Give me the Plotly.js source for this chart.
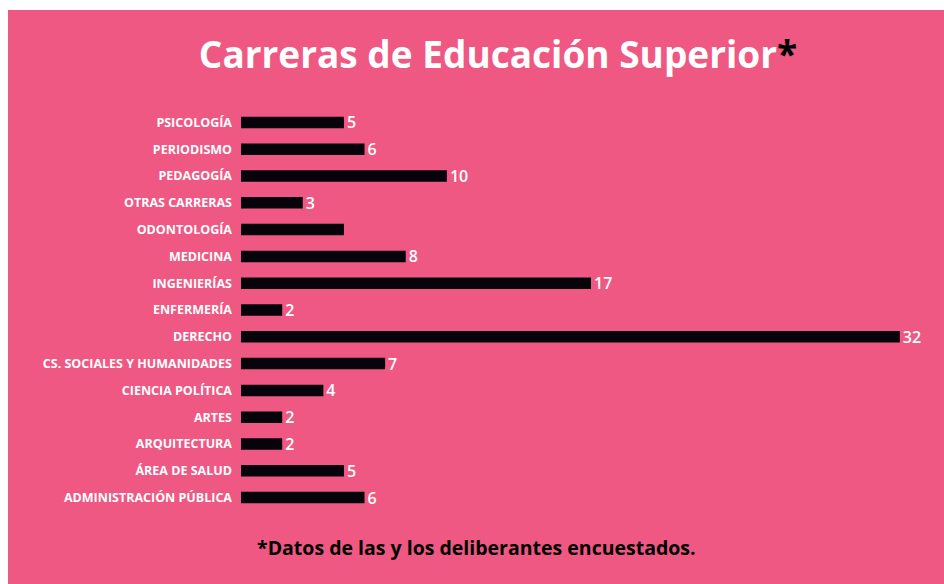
<!DOCTYPE html>
<html>
<head>
<meta charset="utf-8">
<script src="https://cdn.plot.ly/plotly-3.0.1.min.js"></script>
<style>
  html, body { margin: 0; padding: 0; background: #ffffff; }
  #chart { position: absolute; left: 8px; top: 10px; width: 936px; height: 574px; }
</style>
</head>
<body>
<div id="chart"></div>
<script>
const categories = ['PSICOLOGÍA','PERIODISMO','PEDAGOGÍA','OTRAS CARRERAS','ODONTOLOGÍA','MEDICINA','INGENIERÍAS','ENFERMERÍA','DERECHO','CS. SOCIALES Y HUMANIDADES','CIENCIA POLÍTICA','ARTES','ARQUITECTURA','ÁREA DE SALUD','ADMINISTRACIÓN PÚBLICA'];
const values = [5, 6, 10, 3, 5, 8, 17, 2, 32, 7, 4, 2, 2, 5, 6];
const valueLabels = ['5','6','10','3','','8','17','2','32','7','4','2','2','5','6'];

const pink = '#ee5883';

const trace = {
  type: 'bar',
  orientation: 'h',
  y: categories,
  x: values,
  text: valueLabels,
  textposition: 'outside',
  constraintext: 'none',
  cliponaxis: false,
  textfont: { family: 'Open Sans', size: 16, color: '#ffffff', weight: 600 },
  marker: { color: '#07030a' },
  hoverinfo: 'none'
};

const layout = {
  width: 936,
  height: 574,
  margin: { l: 233, r: 3, t: 99, b: 73 },
  paper_bgcolor: pink,
  plot_bgcolor: pink,
  bargap: 0.57,
  showlegend: false,
  title: {
    text: 'Carreras de Educación Superior<span style="color:#000000">*</span>',
    font: { family: 'Open Sans', size: 37, color: '#ffffff', weight: 700 },
    x: 0.5235, xanchor: 'center', xref: 'container',
    y: 0.922, yanchor: 'middle', yref: 'container'
  },
  xaxis: { range: [0, 34], visible: false, fixedrange: true },
  yaxis: {
    type: 'category',
    autorange: 'reversed',
    ticks: '',
    showline: false,
    showgrid: false,
    zeroline: false,
    ticklabelstandoff: 8,
    tickfont: { family: 'Open Sans', size: 12.5, color: '#ffffff', weight: 700 },
    fixedrange: true
  },
  annotations: [{
    text: '*Datos de las y los deliberantes encuestados.',
    xref: 'paper', yref: 'paper',
    x: 0.336, y: -0.092,
    xanchor: 'center', yanchor: 'middle',
    showarrow: false,
    font: { family: 'Open Sans', size: 19.5, color: '#000000', weight: 700 }
  }]
};

Plotly.newPlot('chart', [trace], layout, { displayModeBar: false, staticPlot: true });
</script>
</body>
</html>
